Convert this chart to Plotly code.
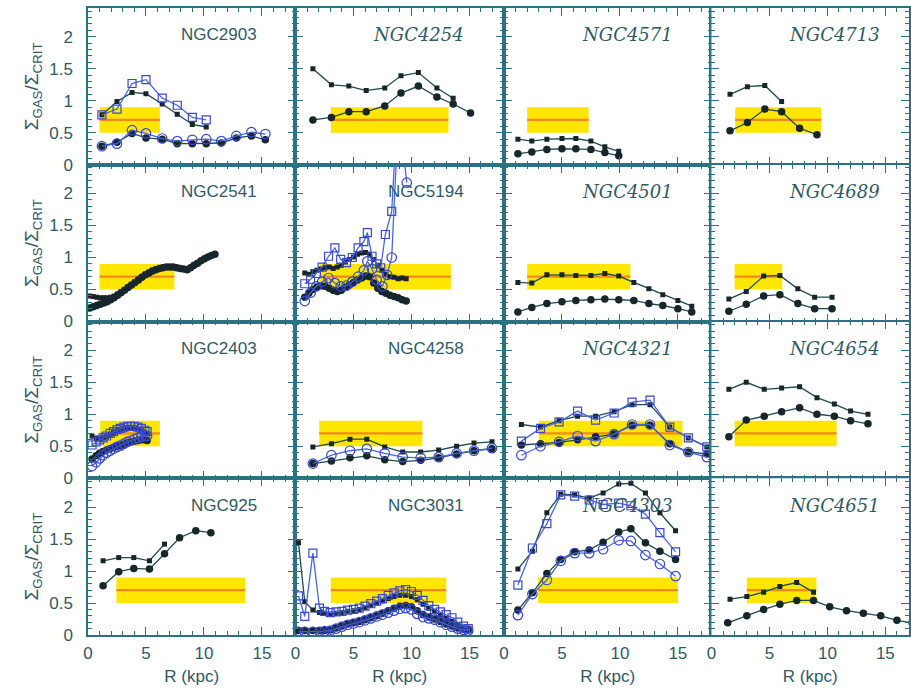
import plotly.graph_objects as go
from plotly.subplots import make_subplots

# ---------------- data: R (kpc) and Sigma_gas / Sigma_crit ----------------
# NGC2903
n2903_r = [1.2, 2.5, 3.8, 5.0, 6.4, 7.7, 9.0, 10.2]
n2903_sq = [0.78, 0.99, 1.13, 1.11, 0.95, 0.79, 0.63, 0.59]
n2903_bsq = [0.78, 0.87, 1.27, 1.33, 1.04, 0.93, 0.74, 0.70]
n2903_r2 = [1.2, 2.5, 3.8, 5.0, 6.4, 7.7, 9.0, 10.2, 11.5, 12.8, 14.1, 15.3]
n2903_ci = [0.29, 0.35, 0.49, 0.42, 0.40, 0.33, 0.33, 0.33, 0.34, 0.42, 0.45, 0.39]
n2903_bci = [0.29, 0.33, 0.54, 0.49, 0.41, 0.37, 0.39, 0.40, 0.37, 0.45, 0.51, 0.48]
n2903_band = [1.0, 6.2]

# NGC4254
n4254_r = [1.5, 3.1, 4.6, 6.1, 7.7, 9.1, 10.6, 12.2, 13.6]
n4254_sq = [1.50, 1.25, 1.23, 1.16, 1.20, 1.39, 1.44, 1.20, 1.04]
n4254_r2 = [1.5, 3.1, 4.6, 6.1, 7.7, 9.1, 10.6, 12.2, 13.6, 15.1]
n4254_ci = [0.70, 0.74, 0.83, 0.83, 0.92, 1.12, 1.23, 1.06, 0.95, 0.81]
n4254_band = [3.05, 13.2]

# NGC4571
n4571_r = [1.2, 2.4, 3.7, 5.0, 6.2, 7.5, 8.7, 9.9]
n4571_sq = [0.40, 0.37, 0.40, 0.41, 0.41, 0.37, 0.28, 0.21]
n4571_ci = [0.17, 0.20, 0.24, 0.25, 0.25, 0.24, 0.19, 0.14]
n4571_band = [2.0, 7.3]

# NGC4713
n4713_r = [1.6, 3.1, 4.6, 6.05]
n4713_sq = [1.10, 1.22, 1.24, 0.99]
n4713_r2 = [1.6, 3.1, 4.6, 6.05, 7.6, 9.1]
n4713_ci = [0.53, 0.66, 0.87, 0.83, 0.57, 0.47]
n4713_band = [2.05, 9.45]

# NGC2541
n2541_r = [0.15, 0.45, 0.75, 1.05, 1.35, 1.65, 1.95, 2.25, 2.55, 2.85, 3.15, 3.45,
           3.75, 4.05, 4.35, 4.65, 4.95, 5.25, 5.55, 5.85, 6.15, 6.45, 6.75, 7.05,
           7.35, 7.65, 7.95, 8.25, 8.55, 8.85, 9.15, 9.45, 9.75, 10.05, 10.35,
           10.65, 10.95]
n2541_ci = [0.21, 0.23, 0.25, 0.27, 0.29, 0.31, 0.34, 0.37, 0.41, 0.45, 0.49, 0.53,
            0.57, 0.61, 0.65, 0.69, 0.73, 0.76, 0.79, 0.81, 0.83, 0.84, 0.85, 0.85,
            0.85, 0.84, 0.83, 0.82, 0.81, 0.84, 0.88, 0.91, 0.95, 0.98, 1.01,
            1.03, 1.05]
n2541_r2 = [0.15, 0.45, 0.75, 1.05, 1.35, 1.65, 1.95, 2.25, 2.55, 2.85, 3.15, 3.45,
            3.75, 4.05, 4.35, 4.65, 4.95, 5.25, 5.55, 5.85, 6.15, 6.45, 6.75, 7.05,
            7.35, 7.65, 7.95, 8.25, 8.55]
n2541_sq = [0.40, 0.39, 0.38, 0.37, 0.37, 0.37, 0.38, 0.40, 0.43, 0.46, 0.50, 0.54,
            0.58, 0.62, 0.66, 0.70, 0.74, 0.77, 0.80, 0.82, 0.83, 0.84, 0.85, 0.85,
            0.85, 0.84, 0.83, 0.82, 0.81]
n2541_band = [1.0, 7.45]

# NGC5194
n5194_r = [0.8, 1.15, 1.5, 1.85, 2.2, 2.55, 2.9, 3.25, 3.6, 3.95, 4.3, 4.65, 5.0,
           5.35, 5.7, 6.05, 6.4, 6.75, 7.1, 7.45, 7.8, 8.15, 8.5, 8.85, 9.2, 9.55]
n5194_sq = [0.76, 0.74, 0.78, 0.80, 0.82, 0.84, 0.85, 0.83, 0.85, 0.88, 0.93, 0.97,
            1.01, 1.05, 1.07, 1.08, 1.05, 0.97, 0.88, 0.80, 0.74, 0.70, 0.69, 0.67,
            0.68, 0.67]
n5194_ci = [0.38, 0.44, 0.50, 0.54, 0.56, 0.55, 0.52, 0.49, 0.47, 0.49, 0.53, 0.57,
            0.61, 0.65, 0.68, 0.71, 0.70, 0.60, 0.52, 0.47, 0.44, 0.41, 0.39, 0.37,
            0.34, 0.32]
n5194_rb = [0.8, 1.3, 1.8, 2.3, 2.85, 3.4, 3.9, 4.4, 4.9, 5.4, 5.9, 6.2, 6.6, 7.0,
            7.35, 7.75, 8.3, 8.75]
n5194_bsq = [0.59, 0.66, 0.75, 0.85, 1.02, 1.15, 0.97, 0.92, 1.00, 1.15, 1.25, 1.39,
             1.02, 0.90, 0.84, 1.36, 1.72, 3.20]
n5194_rc = [0.8, 1.3, 1.8, 2.3, 2.85, 3.4, 3.9, 4.4, 4.9, 5.4, 5.9, 6.2, 6.6, 7.0,
            7.5, 7.9, 8.3, 8.9, 9.6]
n5194_bci = [0.32, 0.45, 0.55, 0.62, 0.68, 0.60, 0.55, 0.56, 0.62, 0.70, 0.80, 0.94,
             0.82, 0.65, 0.55, 0.73, 1.00, 3.30, 2.17]
n5194_band = [2.05, 13.4]

# NGC4501
n4501_r = [1.2, 2.4, 3.7, 5.0, 6.2, 7.5, 8.7, 9.9, 11.2, 12.5, 13.7, 15.0, 16.2]
n4501_sq = [0.61, 0.60, 0.73, 0.73, 0.72, 0.72, 0.75, 0.71, 0.61, 0.51, 0.42, 0.33, 0.24]
n4501_ci = [0.15, 0.22, 0.28, 0.31, 0.33, 0.34, 0.35, 0.34, 0.33, 0.28, 0.25, 0.20, 0.15]
n4501_band = [2.0, 10.9]

# NGC4689
n4689_r = [1.5, 3.0, 4.5, 5.9, 7.45, 8.9, 10.4]
n4689_sq = [0.35, 0.47, 0.71, 0.72, 0.51, 0.38, 0.38]
n4689_ci = [0.16, 0.27, 0.40, 0.42, 0.28, 0.20, 0.20]
n4689_band = [2.0, 6.1]

# NGC2403
n2403_r = [0.35, 0.7, 1.0, 1.3, 1.6, 1.9, 2.2, 2.5, 2.8, 3.1, 3.4, 3.7, 4.0, 4.3,
           4.6, 4.9, 5.1]
n2403_sq = [0.66, 0.62, 0.61, 0.63, 0.65, 0.68, 0.71, 0.74, 0.76, 0.78, 0.79, 0.79,
            0.79, 0.77, 0.75, 0.72, 0.70]
n2403_bsq = [0.52, 0.57, 0.60, 0.63, 0.66, 0.70, 0.73, 0.76, 0.78, 0.80, 0.81, 0.81,
             0.81, 0.80, 0.78, 0.75, 0.73]
n2403_ci = [0.30, 0.35, 0.39, 0.42, 0.44, 0.46, 0.48, 0.50, 0.51, 0.53, 0.55, 0.57,
            0.58, 0.59, 0.60, 0.60, 0.59]
n2403_bci = [0.19, 0.25, 0.31, 0.36, 0.40, 0.43, 0.46, 0.49, 0.51, 0.54, 0.57, 0.59,
             0.61, 0.63, 0.65, 0.66, 0.66]
n2403_band = [1.05, 6.2]

# NGC4258
n4258_r = [1.5, 3.1, 4.7, 6.15, 7.7, 9.25, 10.8, 12.35, 13.9, 15.4, 16.95]
n4258_sq = [0.49, 0.54, 0.61, 0.61, 0.49, 0.41, 0.41, 0.44, 0.50, 0.55, 0.57]
n4258_ci = [0.23, 0.27, 0.32, 0.35, 0.29, 0.26, 0.28, 0.32, 0.38, 0.43, 0.46]
n4258_bci = [0.23, 0.36, 0.43, 0.46, 0.39, 0.33, 0.32, 0.33, 0.39, 0.43, 0.47]
n4258_band = [2.05, 10.95]

# NGC4321
n4321_r = [1.5, 3.15, 4.75, 6.35, 7.9, 9.5, 11.05, 12.6, 14.3, 15.9, 17.5]
n4321_sq = [0.84, 0.80, 0.90, 0.97, 0.97, 1.04, 1.15, 1.15, 0.80, 0.63, 0.49]
n4321_bsq = [0.58, 0.78, 0.88, 1.05, 0.91, 1.02, 1.19, 1.22, 0.80, 0.63, 0.49]
n4321_ci = [0.52, 0.54, 0.56, 0.60, 0.65, 0.69, 0.83, 0.83, 0.54, 0.41, 0.38]
n4321_bci = [0.36, 0.50, 0.57, 0.66, 0.58, 0.69, 0.84, 0.84, 0.52, 0.41, 0.33]
n4321_band = [3.0, 15.4]

# NGC4654
n4654_r = [1.5, 3.0, 4.55, 6.05, 7.6, 9.1, 10.6, 12.0, 13.5]
n4654_sq = [1.39, 1.50, 1.39, 1.41, 1.43, 1.26, 1.16, 1.05, 1.00]
n4654_ci = [0.65, 0.91, 0.97, 1.04, 1.10, 1.00, 0.97, 0.90, 0.85]
n4654_band = [2.0, 10.8]

# NGC925
n925_r = [1.3, 2.65, 3.95, 5.3, 6.6]
n925_sq = [1.16, 1.21, 1.21, 1.16, 1.42]
n925_r2 = [1.3, 2.65, 3.95, 5.3, 6.6, 7.9, 9.3, 10.6]
n925_ci = [0.77, 0.99, 1.04, 1.03, 1.27, 1.52, 1.63, 1.60]
n925_band = [2.45, 13.55]

# NGC3031
n3031_r = [0.26, 0.8, 1.5, 2.07, 2.5, 3.0, 3.5, 4.0, 4.5, 5.0, 5.5, 6.0, 6.5, 7.0,
           7.5, 8.0, 8.5, 9.0, 9.5, 10.0, 10.5, 11.0, 11.5, 12.0, 12.5, 13.0, 13.5,
           14.0, 14.5, 14.9]
n3031_sq = [1.44, 0.52, 0.39, 0.35, 0.34, 0.33, 0.34, 0.35, 0.37, 0.38, 0.40, 0.43,
            0.46, 0.50, 0.53, 0.57, 0.60, 0.62, 0.62, 0.60, 0.55, 0.48, 0.42, 0.37,
            0.31, 0.26, 0.21, 0.16, 0.12, 0.10]
n3031_bsq = [0.61, 0.29, 1.28, 0.42, 0.37, 0.35, 0.36, 0.37, 0.39, 0.40, 0.42, 0.45,
             0.49, 0.53, 0.57, 0.62, 0.66, 0.69, 0.71, 0.68, 0.62, 0.54, 0.46, 0.40,
             0.36, 0.32, 0.27, 0.20, 0.14, 0.10]
n3031_ci = [0.07, 0.07, 0.07, 0.07, 0.07, 0.08, 0.11, 0.14, 0.17, 0.19, 0.21, 0.24,
            0.27, 0.30, 0.34, 0.38, 0.42, 0.45, 0.46, 0.44, 0.38, 0.32, 0.28, 0.25,
            0.21, 0.17, 0.14, 0.11, 0.09, 0.08]
n3031_bci = [0.05, 0.05, 0.05, 0.05, 0.06, 0.07, 0.10, 0.13, 0.16, 0.18, 0.20, 0.23,
             0.26, 0.29, 0.32, 0.35, 0.38, 0.41, 0.42, 0.40, 0.33, 0.28, 0.26, 0.24,
             0.20, 0.16, 0.13, 0.10, 0.08, 0.07]
n3031_band = [3.05, 13.0]

# NGC4303
n4303_r = [1.2, 2.45, 3.7, 4.9, 6.1, 7.35, 8.55, 9.9, 10.95, 12.2, 13.45, 14.8]
n4303_sq = [1.03, 1.31, 1.91, 2.20, 2.19, 2.14, 2.22, 2.36, 2.37, 2.22, 1.91, 1.63]
n4303_bsq = [0.78, 1.36, 1.74, 2.19, 2.17, 2.11, 2.04, 2.06, 2.02, 1.89, 1.60, 1.30]
n4303_ci = [0.39, 0.66, 0.96, 1.18, 1.30, 1.33, 1.45, 1.61, 1.66, 1.44, 1.31, 1.18]
n4303_bci = [0.31, 0.64, 0.86, 1.16, 1.28, 1.28, 1.34, 1.48, 1.47, 1.25, 1.11, 0.92]
n4303_band = [2.95, 15.0]

# NGC4651
n4651_r = [1.6, 3.05, 4.5, 5.9, 7.35, 8.8]
n4651_sq = [0.56, 0.60, 0.67, 0.76, 0.82, 0.67]
n4651_r2 = [1.4, 3.05, 4.5, 5.9, 7.35, 8.8, 10.2, 11.65, 13.1, 14.6, 16.0, 17.3]
n4651_ci = [0.19, 0.30, 0.40, 0.48, 0.54, 0.54, 0.44, 0.38, 0.34, 0.30, 0.23, 0.19]
n4651_band = [3.05, 9.05]

# star-forming band: Sigma_gas/Sigma_crit = 0.7 +/- 0.2
band_low, band_mid, band_high = 0.5, 0.7, 0.9

# panel layout: (label, italic?, row, col, series list, band extent)
panels = [
    ("NGC2903", False, 1, 1, [(n2903_r, n2903_sq, "sq"), (n2903_r2, n2903_ci, "ci"),
                              (n2903_r, n2903_bsq, "bsq"), (n2903_r2, n2903_bci, "bci")], n2903_band),
    ("NGC4254", True, 1, 2, [(n4254_r, n4254_sq, "sq"), (n4254_r2, n4254_ci, "ci")], n4254_band),
    ("NGC4571", True, 1, 3, [(n4571_r, n4571_sq, "sq"), (n4571_r, n4571_ci, "ci")], n4571_band),
    ("NGC4713", True, 1, 4, [(n4713_r, n4713_sq, "sq"), (n4713_r2, n4713_ci, "ci")], n4713_band),
    ("NGC2541", False, 2, 1, [(n2541_r2, n2541_sq, "sq"), (n2541_r, n2541_ci, "ci")], n2541_band),
    ("NGC5194", False, 2, 2, [(n5194_r, n5194_sq, "sq"), (n5194_r, n5194_ci, "ci"),
                              (n5194_rb, n5194_bsq, "bsq"), (n5194_rc, n5194_bci, "bci")], n5194_band),
    ("NGC4501", True, 2, 3, [(n4501_r, n4501_sq, "sq"), (n4501_r, n4501_ci, "ci")], n4501_band),
    ("NGC4689", True, 2, 4, [(n4689_r, n4689_sq, "sq"), (n4689_r, n4689_ci, "ci")], n4689_band),
    ("NGC2403", False, 3, 1, [(n2403_r, n2403_sq, "sq"), (n2403_r, n2403_ci, "ci"),
                              (n2403_r, n2403_bsq, "bsq"), (n2403_r, n2403_bci, "bci")], n2403_band),
    ("NGC4258", False, 3, 2, [(n4258_r, n4258_sq, "sq"), (n4258_r, n4258_ci, "ci"),
                              (n4258_r, n4258_bci, "bci")], n4258_band),
    ("NGC4321", True, 3, 3, [(n4321_r, n4321_sq, "sq"), (n4321_r, n4321_ci, "ci"),
                             (n4321_r, n4321_bsq, "bsq"), (n4321_r, n4321_bci, "bci")], n4321_band),
    ("NGC4654", True, 3, 4, [(n4654_r, n4654_sq, "sq"), (n4654_r, n4654_ci, "ci")], n4654_band),
    ("NGC925", False, 4, 1, [(n925_r, n925_sq, "sq"), (n925_r2, n925_ci, "ci")], n925_band),
    ("NGC3031", False, 4, 2, [(n3031_r, n3031_sq, "sq"), (n3031_r, n3031_ci, "ci"),
                              (n3031_r, n3031_bsq, "bsq"), (n3031_r, n3031_bci, "bci")], n3031_band),
    ("NGC4303", True, 4, 3, [(n4303_r, n4303_sq, "sq"), (n4303_r, n4303_ci, "ci"),
                             (n4303_r, n4303_bsq, "bsq"), (n4303_r, n4303_bci, "bci")], n4303_band),
    ("NGC4651", True, 4, 4, [(n4651_r, n4651_sq, "sq"), (n4651_r2, n4651_ci, "ci")], n4651_band),
]

# ---------------- styling ----------------
DARK_LINE = "#1f4a4c"
DARK_MARK = "#16262a"
BLUE_LINE = "#4866dc"
BLUE_MARK = "#3848d0"
AXIS_COL = "#2c7282"
TEXT_COL = "#2f5a64"

styles = {
    "sq": dict(line=dict(color=DARK_LINE, width=1.3),
               marker=dict(symbol="square", size=5, color=DARK_MARK)),
    "ci": dict(line=dict(color=DARK_LINE, width=1.3),
               marker=dict(symbol="circle", size=7.5, color=DARK_MARK)),
    "bsq": dict(line=dict(color=BLUE_LINE, width=1.3),
                marker=dict(symbol="square-open", size=8, color=BLUE_MARK,
                            line=dict(width=1.2))),
    "bci": dict(line=dict(color=BLUE_LINE, width=1.3),
                marker=dict(symbol="circle-open", size=9.5, color=BLUE_MARK,
                            line=dict(width=1.2))),
}

col_widths = [208, 209, 208, 198]
x_px_per_kpc = 11.62
y_max = 2.45

fig = make_subplots(rows=4, cols=4, horizontal_spacing=0, vertical_spacing=0,
                    column_widths=col_widths)

for label, italic, row, col, series, band in panels:
    for r, v, kind in series:
        fig.add_trace(go.Scatter(x=r, y=v, mode="lines+markers", showlegend=False,
                                 cliponaxis=True, hoverinfo="skip", **styles[kind]),
                      row=row, col=col)
    # star-formation band and its centre line
    fig.add_shape(type="rect", x0=band[0], x1=band[1], y0=band_low, y1=band_high,
                  fillcolor="#ffe600", line=dict(width=0), layer="below",
                  row=row, col=col)
    fig.add_shape(type="line", x0=band[0], x1=band[1], y0=band_mid, y1=band_mid,
                  line=dict(color="#f2891e", width=2.2), layer="below",
                  row=row, col=col)
    if italic:
        txt = "<i>" + label + "</i>"
        fnt = dict(family="DejaVu Serif", size=18, color=TEXT_COL)
    else:
        txt = label
        fnt = dict(family="Liberation Sans, Arial", size=17, color=TEXT_COL)
    fig.add_annotation(text=txt, x=14.75, y=2.03, xanchor="right", yanchor="middle",
                       showarrow=False, font=fnt, row=row, col=col)

tick_font = dict(family="Liberation Sans, Arial", size=17, color=TEXT_COL)

for row in range(1, 5):
    for col in range(1, 5):
        xr = col_widths[col - 1] / x_px_per_kpc
        fig.update_xaxes(range=[0, xr], dtick=5, tick0=0, ticks="inside", ticklen=8,
                         tickwidth=1.3, tickcolor=AXIS_COL, showline=True,
                         linecolor=AXIS_COL, linewidth=1.5, mirror="ticks",
                         showgrid=False, zeroline=False,
                         minor=dict(dtick=1, tick0=0, ticks="inside", ticklen=4,
                                    tickcolor=AXIS_COL, tickwidth=1.1, showgrid=False),
                         showticklabels=(row == 4), tickfont=tick_font,
                         ticklabelstandoff=2,
                         row=row, col=col)
        fig.update_yaxes(range=[0, y_max], dtick=0.5, tick0=0, ticks="inside",
                         ticklen=8, tickwidth=1.3, tickcolor=AXIS_COL, showline=True,
                         linecolor=AXIS_COL, linewidth=1.5, mirror="ticks",
                         showgrid=False, zeroline=False,
                         minor=dict(dtick=0.1, tick0=0, ticks="inside", ticklen=4,
                                    tickcolor=AXIS_COL, tickwidth=1.1, showgrid=False),
                         showticklabels=(col == 1), tickfont=tick_font,
                         ticklabelstandoff=10,
                         row=row, col=col)
    fig.update_yaxes(title=dict(text="Σ<sub>GAS</sub>/Σ<sub>CRIT</sub>", standoff=6,
                                font=dict(family="Liberation Sans, Arial", size=19,
                                          color=TEXT_COL)),
                     row=row, col=1)

for col in range(1, 5):
    fig.update_xaxes(title=dict(text="R (kpc)", standoff=8,
                                font=dict(family="Liberation Sans, Arial", size=17,
                                          color=TEXT_COL)),
                     row=4, col=col)

fig.update_layout(width=911, height=689, margin=dict(l=88, r=0, t=8, b=54),
                  paper_bgcolor="white", plot_bgcolor="white", showlegend=False)

fig.write_html("out.html")
